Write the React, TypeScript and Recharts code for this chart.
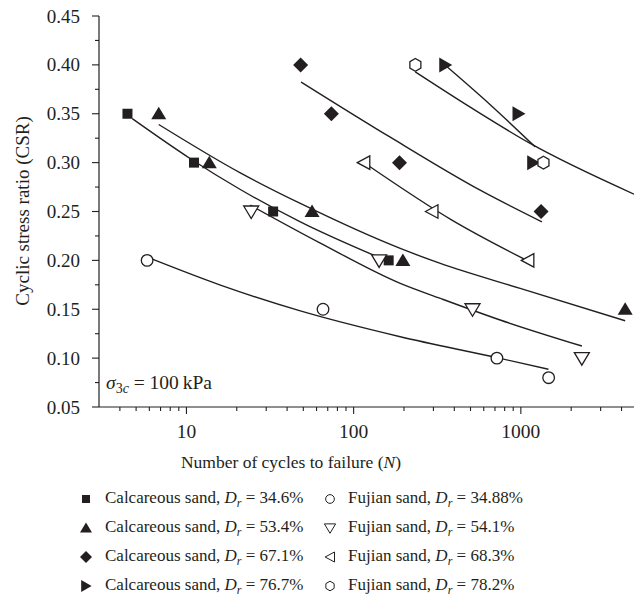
import React from "react";
import { ComposedChart, Line, Scatter, XAxis, YAxis } from "recharts";

const FONT = '"Liberation Serif", "Times New Roman", serif';
const INK = "#231f20";

// measured points, calcareous sand
const calc346N = [4.44, 11.1, 33, 162];
const calc346Csr = [0.35, 0.3, 0.25, 0.2];
const calc534N = [6.83, 13.7, 56.4, 197, 4206];
const calc534Csr = [0.35, 0.3, 0.25, 0.2, 0.15];
const calc671N = [48.2, 73.6, 188, 1321];
const calc671Csr = [0.4, 0.35, 0.3, 0.25];
const calc767N = [353, 968, 1185];
const calc767Csr = [0.4, 0.35, 0.3];

// measured points, Fujian sand
const fj3488N = [5.82, 65.6, 719, 1466];
const fj3488Csr = [0.2, 0.15, 0.1, 0.08];
const fj541N = [24.4, 142, 514, 2316];
const fj541Csr = [0.25, 0.2, 0.15, 0.1];
const fj683N = [115, 294, 1101];
const fj683Csr = [0.3, 0.25, 0.2];
const fj782N = [234, 1365];
const fj782Csr = [0.4, 0.3];

// fitted curves
const fitCalc346N = [4.74, 10.56, 21.0, 48.0, 154.5];
const fitCalc346Csr = [0.345, 0.304, 0.2725, 0.2394, 0.2003];
const fitCalc534N = [6.83, 21.0, 48.0, 190, 330, 991, 4205];
const fitCalc534Csr = [0.339, 0.2895, 0.2582, 0.2122, 0.1969, 0.1713, 0.1382];
const fitCalc671N = [48.5, 165.6, 571, 1336];
const fitCalc671Csr = [0.3825, 0.326, 0.2718, 0.2394];
const fitCalc767N = [353, 656, 1218];
const fitCalc767Csr = [0.3996, 0.3592, 0.3161];
const fitFj3488N = [6.09, 15.97, 48.0, 190, 719, 1462];
const fitFj3488Csr = [0.202, 0.1747, 0.1483, 0.1219, 0.1005, 0.0886];
const fitFj541N = [24.1, 63.2, 190, 330, 752, 2317];
const fitFj541Csr = [0.2565, 0.2177, 0.1765, 0.1611, 0.139, 0.1124];
const fitFj683N = [117.4, 387, 1137];
const fitFj683Csr = [0.2991, 0.2412, 0.1982];
const fitFj782N = [233.7, 498, 1137, 4753];
const fitFj782Csr = [0.3928, 0.3567, 0.3196, 0.2677];

const xTicks = [4, 5, 6, 7, 8, 9, 10, 20, 30, 40, 50, 60, 70, 80, 90, 100, 200, 300, 400, 500, 600, 700, 800, 900, 1000, 2000, 3000, 4000];
const xMajor = [10, 100, 1000];
const yTicks = [0.05, 0.075, 0.1, 0.125, 0.15, 0.175, 0.2, 0.225, 0.25, 0.275, 0.3, 0.325, 0.35, 0.375, 0.4, 0.425, 0.45];
const yLabels = ["0.05", "", "0.10", "", "0.15", "", "0.20", "", "0.25", "", "0.30", "", "0.35", "", "0.40", "", "0.45"];

type MarkerKind = "square" | "triUp" | "diamond" | "triRight" | "circle" | "triDown" | "triLeft" | "hexagon";

const toPoints = (n: number[], csr: number[]) => n.map((v, i) => ({ n: v, csr: csr[i] }));

const series: { name: string; dr: string; kind: MarkerKind; pts: any[]; fit: any[] }[] = [
  { name: "Calcareous sand", dr: "34.6%", kind: "square", pts: toPoints(calc346N, calc346Csr), fit: toPoints(fitCalc346N, fitCalc346Csr) },
  { name: "Calcareous sand", dr: "53.4%", kind: "triUp", pts: toPoints(calc534N, calc534Csr), fit: toPoints(fitCalc534N, fitCalc534Csr) },
  { name: "Calcareous sand", dr: "67.1%", kind: "diamond", pts: toPoints(calc671N, calc671Csr), fit: toPoints(fitCalc671N, fitCalc671Csr) },
  { name: "Calcareous sand", dr: "76.7%", kind: "triRight", pts: toPoints(calc767N, calc767Csr), fit: toPoints(fitCalc767N, fitCalc767Csr) },
  { name: "Fujian sand", dr: "34.88%", kind: "circle", pts: toPoints(fj3488N, fj3488Csr), fit: toPoints(fitFj3488N, fitFj3488Csr) },
  { name: "Fujian sand", dr: "54.1%", kind: "triDown", pts: toPoints(fj541N, fj541Csr), fit: toPoints(fitFj541N, fitFj541Csr) },
  { name: "Fujian sand", dr: "68.3%", kind: "triLeft", pts: toPoints(fj683N, fj683Csr), fit: toPoints(fitFj683N, fitFj683Csr) },
  { name: "Fujian sand", dr: "78.2%", kind: "hexagon", pts: toPoints(fj782N, fj782Csr), fit: toPoints(fitFj782N, fitFj782Csr) },
];

function Marker({ kind, cx, cy, s = 1, sw = 1.3 }: { kind: MarkerKind; cx: number; cy: number; s?: number; sw?: number }) {
  const filled = { fill: INK, stroke: "none" };
  const open = { fill: "#fff", stroke: INK, strokeWidth: sw };
  const pts = (arr: number[][]) => arr.map(([dx, dy]) => `${cx + dx * s},${cy + dy * s}`).join(" ");
  switch (kind) {
    case "square":
      return <rect x={cx - 5 * s} y={cy - 5 * s} width={10 * s} height={10 * s} {...filled} />;
    case "triUp":
      return <polygon points={pts([[0, -7], [7.5, 5.5], [-7.5, 5.5]])} {...filled} />;
    case "diamond":
      return <polygon points={pts([[0, -7.5], [7.5, 0], [0, 7.5], [-7.5, 0]])} {...filled} />;
    case "triRight":
      return <polygon points={pts([[7, 0], [-6, -7.5], [-6, 7.5]])} {...filled} />;
    case "circle":
      return <circle cx={cx} cy={cy} r={5.8 * s} {...open} />;
    case "triDown":
      return <polygon points={pts([[-7.5, -5.5], [7.5, -5.5], [0, 7]])} {...open} />;
    case "triLeft":
      return <polygon points={pts([[-6.5, 0], [6, -6.7], [6, 6.7]])} {...open} />;
    default:
      return <polygon points={pts([[0, -6.4], [5.5, -3.2], [5.5, 3.2], [0, 6.4], [-5.5, 3.2], [-5.5, -3.2]])} {...open} />;
  }
}

const XTick = (props: any) => {
  const { x, y, payload } = props;
  const major = xMajor.includes(payload.value);
  return (
    <g>
      <line x1={x} y1={y} x2={x} y2={y + (major ? 7 : 4)} stroke={INK} strokeWidth={1.1} />
      {major && (
        <text x={x} y={y + 31} textAnchor="middle" fontFamily={FONT} fontSize={19.5} fill={INK}>
          {payload.value}
        </text>
      )}
    </g>
  );
};

const YTick = (props: any) => {
  const { x, y, payload, index } = props;
  const label = yLabels[index];
  return (
    <g>
      <line x1={x - (label ? 7 : 4)} y1={y} x2={x} y2={y} stroke={INK} strokeWidth={1.1} />
      {label && (
        <text x={x - 19} y={y + 6.5} textAnchor="end" fontFamily={FONT} fontSize={19} fill={INK}>
          {label}
        </text>
      )}
    </g>
  );
};

const legendRows = [499, 527.5, 556.5, 586];

export default function App() {
  return (
    <div style={{ position: "absolute", left: 0, top: 0, width: 634, height: 610, background: "#fff", fontFamily: FONT, color: INK }}>
      <ComposedChart width={634} height={610} margin={{ top: 16, right: 0, bottom: 0, left: 0 }}>
        <XAxis
          dataKey="n"
          type="number"
          scale="log"
          domain={[3, 4750]}
          allowDataOverflow
          ticks={xTicks}
          interval={0}
          height={203}
          tickSize={0}
          tickMargin={0}
          tick={<XTick />}
          axisLine={{ stroke: INK, strokeWidth: 1.2 }}
        />
        <YAxis
          dataKey="csr"
          type="number"
          domain={[0.05, 0.45]}
          allowDataOverflow
          ticks={yTicks}
          interval={0}
          width={99}
          tickSize={0}
          tickMargin={0}
          tick={<YTick />}
          axisLine={{ stroke: INK, strokeWidth: 1.2 }}
        />
        {series.map((s, i) => (
          <Line
            key={`fit-${i}`}
            data={s.fit}
            dataKey="csr"
            type="monotone"
            stroke={INK}
            strokeWidth={1.4}
            dot={false}
            activeDot={false}
            isAnimationActive={false}
          />
        ))}
        {series.map((s, i) => (
          <Scatter
            key={`pts-${i}`}
            data={s.pts}
            dataKey="csr"
            isAnimationActive={false}
            shape={(p: any) => <Marker kind={s.kind} cx={p.cx} cy={p.cy} />}
          />
        ))}
      </ComposedChart>

      <div style={{ position: "absolute", left: 23, top: 211, transform: "translate(-50%, -50%) rotate(-90deg)", whiteSpace: "nowrap", fontSize: 19 }}>
        Cyclic stress ratio (CSR)
      </div>
      <div style={{ position: "absolute", left: 291, top: 451, transform: "translateX(-50%)", whiteSpace: "nowrap", fontSize: 17.5, lineHeight: "22px" }}>
        Number of cycles to failure (<i>N</i>)
      </div>
      <div style={{ position: "absolute", left: 106, top: 372, whiteSpace: "nowrap", fontSize: 19.5, lineHeight: "22px" }}>
        <i>σ</i>
        <span style={{ fontSize: 14, position: "relative", top: 4 }}>
          3<i>c</i>
        </span>{" "}
        = 100&thinsp;kPa
      </div>

      {series.map((s, i) => {
        const col = i < 4 ? 0 : 1;
        const cy = legendRows[i % 4];
        const mx = col === 0 ? 86 : 330;
        const tx = col === 0 ? 105 : 348;
        return (
          <React.Fragment key={`leg-${i}`}>
            <svg style={{ position: "absolute", left: mx - 8, top: cy - 8 }} width={16} height={16}>
              <Marker kind={s.kind} cx={8} cy={8} s={col === 0 ? 0.8 : 0.75} sw={1} />
            </svg>
            <div style={{ position: "absolute", left: tx, top: cy - 12, whiteSpace: "nowrap", fontSize: 17, lineHeight: "22px" }}>
              {s.name}, <i>D</i>
              <span style={{ fontSize: 12, fontStyle: "italic", position: "relative", top: 4 }}>r</span> = {s.dr}
            </div>
          </React.Fragment>
        );
      })}
    </div>
  );
}
